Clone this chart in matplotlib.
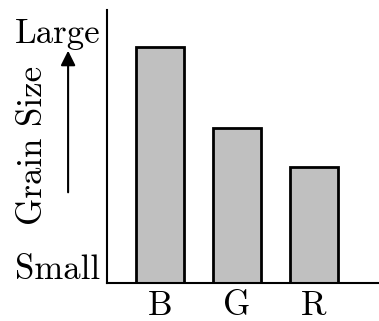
import matplotlib
matplotlib.use("Agg")
import matplotlib.pyplot as plt

plt.rcParams['font.family'] = ['cmr10', 'DejaVu Serif']

channels = ['B', 'G', 'R']
grain = [8.64, 5.68, 4.25]
size_labels = ['Small', 'Large']
size_pos = [0.6, 9.25]

fig = plt.figure(figsize=(3.79, 3.21), dpi=100)
ax = fig.add_axes([0.2823, 0.1184, 0.7177, 0.8505])

x = range(len(channels))
ax.bar(x, grain, width=0.62, color='#c0c0c0', edgecolor='black', linewidth=2)

ax.set_xlim(-0.688, 2.844)
ax.set_ylim(0, 10)
ax.set_xticks(list(x))
ax.set_xticklabels(channels, fontsize=25)
ax.set_yticks(size_pos)
ax.set_yticklabels(size_labels, fontsize=25)
ax.tick_params(length=0)
ax.tick_params(axis='x', pad=5)
ax.tick_params(axis='y', pad=5)

for s in ['top', 'right']:
    ax.spines[s].set_visible(False)
for s in ['left', 'bottom']:
    ax.spines[s].set_linewidth(1.5)

# arrow + rotated label on the left
ax.annotate('', xy=(-0.143, 0.861), xytext=(-0.143, 0.322),
            xycoords='axes fraction',
            arrowprops=dict(arrowstyle='-|>', color='black', lw=1.5,
                            mutation_scale=22))
ax.text(-0.27, 0.505, 'Grain Size', transform=ax.transAxes, rotation=90,
        ha='center', va='center', fontsize=25)

fig.savefig('out.png', dpi=100)
